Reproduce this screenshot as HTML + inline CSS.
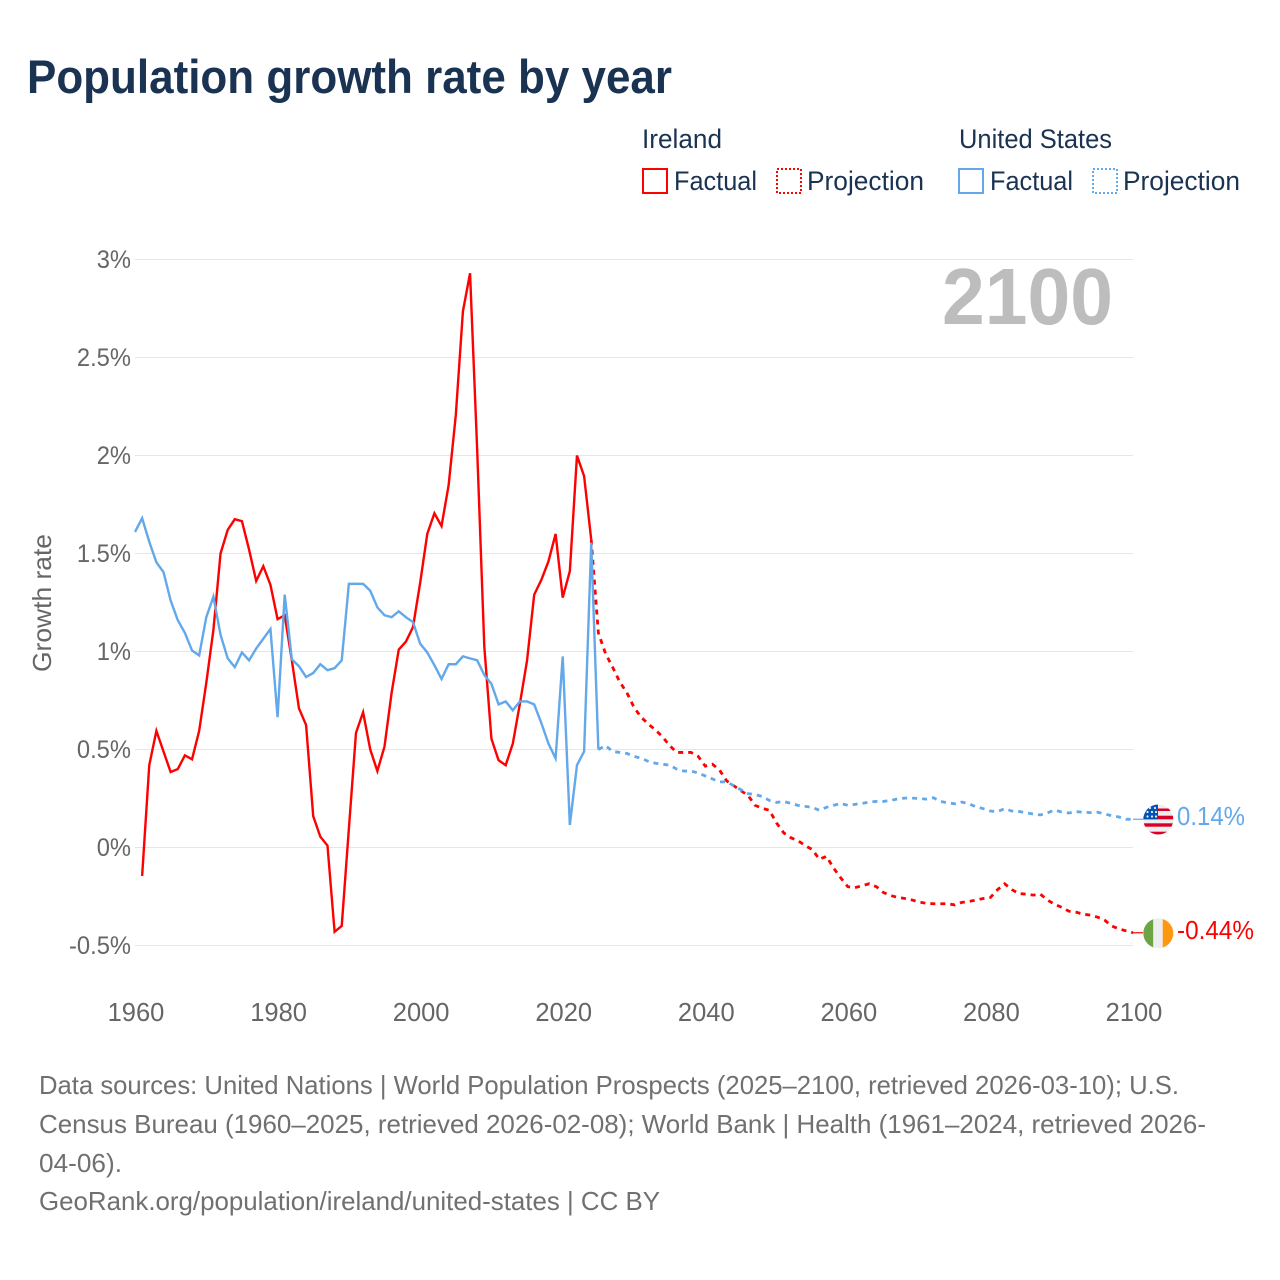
<!DOCTYPE html>
<html lang="en">
<head>
<meta charset="utf-8">
<title>Population growth rate by year</title>
<style>
html,body{margin:0;padding:0;background:#fff;}
svg{display:block;font-family:"Liberation Sans",sans-serif;}
</style>
</head>
<body>
<svg id="chart" xmlns="http://www.w3.org/2000/svg" width="1280" height="1280" viewBox="0 0 1280 1280">
  <defs>
    <clipPath id="us-clip"><circle cx="1158.3" cy="819.5" r="15"/></clipPath>
    <clipPath id="ie-clip"><circle cx="1158.3" cy="933.3" r="15"/></clipPath>
  </defs>
  <rect width="1280" height="1280" fill="#ffffff"/>
  <text x="27" y="93" font-size="47" font-weight="700" fill="#1a3353" textLength="645" lengthAdjust="spacingAndGlyphs">Population growth rate by year</text>

  <g font-size="26.5" fill="#1a3353">
    <text x="642" y="148" textLength="80" lengthAdjust="spacingAndGlyphs">Ireland</text>
    <text x="959" y="148" textLength="153" lengthAdjust="spacingAndGlyphs">United States</text>
    <rect x="643" y="169" width="24" height="24" fill="none" stroke="#ff0000" stroke-width="2"/>
    <text x="674" y="190" textLength="83" lengthAdjust="spacingAndGlyphs">Factual</text>
    <rect x="777" y="169" width="24" height="24" fill="none" stroke="#ff0000" stroke-width="2" stroke-dasharray="2 2"/>
    <text x="807" y="190" textLength="117" lengthAdjust="spacingAndGlyphs">Projection</text>
    <rect x="959" y="169" width="24" height="24" fill="none" stroke="#62a8ea" stroke-width="2"/>
    <text x="990" y="190" textLength="83" lengthAdjust="spacingAndGlyphs">Factual</text>
    <rect x="1093" y="169" width="24" height="24" fill="none" stroke="#62a8ea" stroke-width="2" stroke-dasharray="2 2"/>
    <text x="1123" y="190" textLength="117" lengthAdjust="spacingAndGlyphs">Projection</text>
  </g>

  <g id="grid"></g>
  <g id="y-ticks" font-size="25" fill="#666666" text-anchor="end"></g>
  <g id="x-ticks" font-size="25.5" fill="#666666" text-anchor="middle"></g>
  <text transform="translate(51 603) rotate(-90)" text-anchor="middle" font-size="26" fill="#666666" textLength="138" lengthAdjust="spacingAndGlyphs">Growth rate</text>
  <text x="1113" y="324" text-anchor="end" font-size="80" font-weight="700" fill="#bdbdbd" textLength="171" lengthAdjust="spacingAndGlyphs">2100</text>

  <g id="series"></g>

  <g clip-path="url(#us-clip)">
    <rect x="1143" y="804" width="31" height="31" fill="#eeeeee"/>
    <rect x="1143" y="808.5" width="31" height="2.5" fill="#d80027"/>
    <rect x="1143" y="815.7" width="31" height="3.6" fill="#d80027"/>
    <rect x="1143" y="823.3" width="31" height="3.4" fill="#d80027"/>
    <rect x="1143" y="831.7" width="31" height="3.5" fill="#d80027"/>
    <rect x="1143" y="804" width="15" height="15.3" fill="#0052b4"/>
    <g fill="#eeeeee">
      <circle cx="1150" cy="808" r="1.1"/><circle cx="1155" cy="808" r="1.1"/>
      <circle cx="1147.5" cy="812" r="1.1"/><circle cx="1152" cy="812" r="1.1"/><circle cx="1156" cy="812" r="1.1"/>
      <circle cx="1147.5" cy="816.5" r="1.1"/><circle cx="1152" cy="816.5" r="1.1"/><circle cx="1156" cy="816.5" r="1.1"/>
    </g>
  </g>
  <g clip-path="url(#ie-clip)">
    <rect x="1143" y="918" width="10.3" height="31" fill="#6da544"/>
    <rect x="1153.3" y="918" width="9.4" height="31" fill="#eeeeee"/>
    <rect x="1162.7" y="918" width="11" height="31" fill="#ff9811"/>
  </g>
  <text x="1177" y="825" font-size="26" fill="#62a8ea" textLength="68" lengthAdjust="spacingAndGlyphs">0.14%</text>
  <text x="1177" y="939" font-size="26" fill="#ff0000" textLength="77" lengthAdjust="spacingAndGlyphs">-0.44%</text>

  <g font-size="26" fill="#707070">
    <text x="39" y="1094" textLength="1140" lengthAdjust="spacingAndGlyphs">Data sources: United Nations | World Population Prospects (2025–2100, retrieved 2026-03-10); U.S.</text>
    <text x="39" y="1133" textLength="1167" lengthAdjust="spacingAndGlyphs">Census Bureau (1960–2025, retrieved 2026-02-08); World Bank | Health (1961–2024, retrieved 2026-</text>
    <text x="39" y="1172" textLength="83" lengthAdjust="spacingAndGlyphs">04-06).</text>
    <text x="39" y="1210" textLength="621" lengthAdjust="spacingAndGlyphs">GeoRank.org/population/ireland/united-states | CC BY</text>
  </g>
</svg>
<script>
const yTickValues = [-0.5, 0, 0.5, 1, 1.5, 2, 2.5, 3];
const yTickLabels = ['-0.5%', '0%', '0.5%', '1%', '1.5%', '2%', '2.5%', '3%'];
const xTickYears = [1960, 1980, 2000, 2020, 2040, 2060, 2080, 2100];
const irelandFactualStart = 1961;
const irelandFactual = [
  -0.145, 0.42, 0.595, 0.49, 0.385, 0.40, 0.47, 0.45, 0.595,
  0.84, 1.11, 1.50, 1.62, 1.675, 1.665, 1.52, 1.36, 1.435, 1.34,
  1.165, 1.185, 0.955, 0.71, 0.625, 0.16, 0.055, 0.01, -0.43, -0.40,
  0.095, 0.585, 0.69, 0.50, 0.39, 0.515, 0.79, 1.01, 1.05, 1.125,
  1.35, 1.60, 1.705, 1.64, 1.85, 2.205, 2.735, 2.93, 2.03, 1.025,
  0.555, 0.445, 0.42, 0.53, 0.735, 0.955, 1.29, 1.365, 1.46, 1.60,
  1.275, 1.41, 2.0, 1.895, 1.57
];
const irelandProjectionStart = 2024;
const irelandProjection = [
  1.57, 1.095, 0.99, 0.92, 0.845, 0.79,
  0.715, 0.665, 0.63, 0.60, 0.565, 0.52, 0.485, 0.485, 0.485, 0.465,
  0.415, 0.425, 0.395, 0.34, 0.315, 0.29, 0.265, 0.215, 0.20, 0.19,
  0.125, 0.075, 0.05, 0.035, 0.01, -0.01, -0.06, -0.045, -0.105, -0.155,
  -0.20, -0.205, -0.195, -0.185, -0.20, -0.23, -0.245, -0.255, -0.26, -0.268,
  -0.278, -0.285, -0.287, -0.287, -0.287, -0.293, -0.28, -0.275, -0.268, -0.26,
  -0.255, -0.215, -0.185, -0.215, -0.235, -0.238, -0.243, -0.238, -0.268, -0.29,
  -0.305, -0.325, -0.33, -0.34, -0.345, -0.355, -0.37, -0.40, -0.415, -0.425,
  -0.435
];
const usFactualStart = 1960;
const usFactual = [
  1.61, 1.68, 1.56, 1.455, 1.405, 1.26, 1.16, 1.095, 1.005, 0.98,
  1.175, 1.28, 1.085, 0.965, 0.92, 0.995, 0.955, 1.015, 1.065, 1.115,
  0.665, 1.29, 0.96, 0.925, 0.87, 0.89, 0.935, 0.905, 0.915, 0.955,
  1.345, 1.345, 1.345, 1.31, 1.225, 1.185, 1.175, 1.205, 1.175, 1.15,
  1.04, 0.995, 0.93, 0.86, 0.935, 0.935, 0.975, 0.965, 0.955, 0.88,
  0.835, 0.73, 0.745, 0.70, 0.745, 0.745, 0.73, 0.635, 0.53, 0.455,
  0.975, 0.115, 0.42, 0.49, 1.555, 0.50
];
const usProjectionStart = 2025;
const usProjection = [
  0.50, 0.52, 0.49, 0.485, 0.48,
  0.465, 0.455, 0.44, 0.43, 0.425, 0.42, 0.40, 0.39, 0.39, 0.38,
  0.365, 0.35, 0.335, 0.335, 0.315, 0.295, 0.275, 0.27, 0.26, 0.24,
  0.23, 0.235, 0.225, 0.215, 0.21, 0.205, 0.19, 0.205, 0.215, 0.225,
  0.215, 0.22, 0.225, 0.232, 0.235, 0.235, 0.24, 0.248, 0.252, 0.252,
  0.25, 0.247, 0.254, 0.235, 0.228, 0.223, 0.232, 0.222, 0.208, 0.198,
  0.186, 0.183, 0.198, 0.186, 0.184, 0.177, 0.171, 0.166, 0.177, 0.191,
  0.181, 0.176, 0.183, 0.18, 0.178, 0.18, 0.172, 0.162, 0.156, 0.144,
  0.144
];

const SVG_NS = 'http://www.w3.org/2000/svg';
function xScale(year) { return 135 + (year - 1960) * (1133 - 135) / 140; }
function yScale(value) { return 847.5 - value * 196; }
function pointsFor(values, startYear) {
  return values.map(function (v, i) {
    return xScale(startYear + i).toFixed(2) + ',' + yScale(v).toFixed(2);
  }).join(' ');
}
function addLine(values, startYear, color, dashed, name) {
  const el = document.createElementNS(SVG_NS, 'polyline');
  
  
  el.setAttribute('points', pointsFor(values, startYear));
  el.setAttribute('fill', 'none');
  el.setAttribute('stroke', color);
  el.setAttribute('stroke-width', dashed ? '2.8' : '2.4');
  el.setAttribute('stroke-linejoin', 'miter');
  if (dashed) el.setAttribute('stroke-dasharray', '5 5');
  document.getElementById('series').appendChild(el);
}
function addConnector(value, color, name) {
  const el = document.createElementNS(SVG_NS, 'line');
  
  
  el.setAttribute('x1', xScale(2100));
  el.setAttribute('x2', xScale(2100) + 10);
  el.setAttribute('y1', yScale(value));
  el.setAttribute('y2', yScale(value));
  el.setAttribute('stroke', color);
  el.setAttribute('stroke-width', '1.2');
  document.getElementById('series').appendChild(el);
}

yTickValues.forEach(function (v, i) {
  const line = document.createElementNS(SVG_NS, 'line');
  
  
  line.setAttribute('x1', xScale(1960));
  line.setAttribute('x2', xScale(2100));
  line.setAttribute('y1', yScale(v));
  line.setAttribute('y2', yScale(v));
  line.setAttribute('stroke', '#e6e6e6');
  line.setAttribute('stroke-width', '1');
  document.getElementById('grid').appendChild(line);

  const label = document.createElementNS(SVG_NS, 'text');
  
  
  label.setAttribute('x', 131);
  label.setAttribute('y', yScale(v) + 8.5);
  label.textContent = yTickLabels[i];
  document.getElementById('y-ticks').appendChild(label);
  label.setAttribute('textLength', (label.getComputedTextLength() * 0.95).toFixed(1));
  label.setAttribute('lengthAdjust', 'spacingAndGlyphs');
});

xTickYears.forEach(function (year) {
  const label = document.createElementNS(SVG_NS, 'text');
  
  
  label.setAttribute('x', xScale(year) + 1);
  label.setAttribute('y', 1021);
  label.textContent = String(year);
  document.getElementById('x-ticks').appendChild(label);
});

addLine(irelandProjection, irelandProjectionStart, '#ff0000', true, 'ireland-projection-line');
addLine(irelandFactual, irelandFactualStart, '#ff0000', false, 'ireland-factual-line');
addLine(usProjection, usProjectionStart, '#62a8ea', true, 'us-projection-line');
addLine(usFactual, usFactualStart, '#62a8ea', false, 'us-factual-line');
addConnector(usProjection[usProjection.length - 1], '#62a8ea', 'us-end-connector');
addConnector(irelandProjection[irelandProjection.length - 1], '#ff0000', 'ireland-end-connector');
</script>
</body>
</html>
